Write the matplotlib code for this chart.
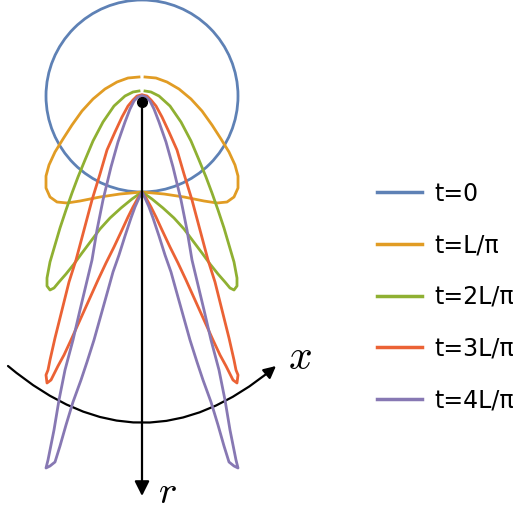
import matplotlib.pyplot as plt
from matplotlib.patches import Circle, FancyArrowPatch
from matplotlib.lines import Line2D

plt.rcParams['mathtext.fontset'] = 'cm'

# legenda
labels = ['t=0', 't=L/π', 't=2L/π', 't=3L/π', 't=4L/π']
cores = ['#5E81B5', '#E19C24', '#8FB032', '#EB6235', '#8778B3']

# t=0 -> circulo (centro, raio) em pixels da figura
centro = (142, 96)
raio = 96

# eixo de simetria
eixo_x = 142

# metade esquerda de cada curva (topo -> origem), coordenadas em pixels
orange_x = [139, 128, 117, 105, 93, 82, 72, 63, 55, 49, 46, 46, 50, 57, 67, 80, 100, 120, 142]
orange_y = [77, 78, 82, 89, 99, 111, 125, 139, 152, 165, 176, 188, 197, 202, 203, 201, 197, 194, 192]

green_x = [139, 133, 125, 114, 103, 93, 85, 78, 72, 66, 60, 55, 50, 47, 47, 50, 54, 59,
           66, 74, 82, 91, 100, 110, 121, 132, 142]
green_y = [91, 92, 96, 106, 122, 141, 160, 177, 193, 210, 228, 245, 262, 278, 286, 290, 288, 282,
           274, 264, 253, 241, 229, 218, 208, 199, 192]

red_x = [141, 137, 133, 128, 122, 115, 107, 100, 92, 84, 76, 69, 62, 55, 50, 48, 46, 47, 51, 53,
         58, 64, 71, 80, 89, 98, 106, 114, 122, 128, 133, 138, 142]
red_y = [95, 96, 100, 106, 117, 132, 150, 174, 200, 230, 260, 282, 310, 338, 360, 370, 375, 383, 380, 376,
         366, 355, 340, 320, 300, 280, 263, 247, 230, 217, 207, 198, 192]

purple_x = [141, 138, 134, 130, 125, 118, 111, 103, 97, 92, 86, 80, 73, 65, 59, 54, 50, 48, 46, 50,
            55, 60, 66, 73, 81, 87, 94, 101, 108, 113, 119, 125, 131, 135, 139, 142]
purple_y = [96, 97, 101, 109, 122, 142, 167, 200, 230, 260, 285, 310, 340, 370, 400, 430, 450, 460, 468, 466,
            462, 446, 425, 402, 380, 362, 340, 315, 290, 272, 255, 236, 218, 207, 198, 192]

curvas = [(orange_x, orange_y), (green_x, green_y), (red_x, red_y), (purple_x, purple_y)]

fig = plt.figure(figsize=(5.27, 5.16), dpi=100)
ax = fig.add_axes([0, 0, 1, 1])
ax.set_xlim(0, 527)
ax.set_ylim(516, 0)
ax.axis('off')

ax.add_patch(Circle(centro, raio, fill=False, edgecolor=cores[0], lw=2.0))

for (xs, ys), cor in zip(curvas, cores[1:]):
    # curva completa = metade esquerda + espelho da metade direita
    xx = list(xs) + [2 * eixo_x - v for v in reversed(xs[:-1])]
    yy = list(ys) + list(reversed(ys[:-1]))
    ax.plot(xx, yy, color=cor, lw=2.0, solid_joinstyle='round')

# seta r
ax.annotate('', xy=(142, 496), xytext=(142, 102),
            arrowprops=dict(arrowstyle='-|>', color='black', lw=1.6,
                            mutation_scale=22, shrinkA=0, shrinkB=0))
ax.plot([142], [102], 'o', color='black', ms=7)
ax.text(167, 492, '$r$', fontsize=28, ha='center', va='center')

# seta x (arco)
seta = FancyArrowPatch((8, 366), (276, 366), connectionstyle='arc3,rad=0.42',
                       arrowstyle='-|>', mutation_scale=18, color='black', lw=1.6,
                       shrinkA=0, shrinkB=0)
ax.add_patch(seta)
ax.text(300, 357, '$x$', fontsize=30, ha='center', va='center')

handles = [Line2D([], [], color=c, lw=2.5) for c in cores]
ax.legend(handles, labels, loc='center left', bbox_to_anchor=(377 / 527, 1 - 297 / 516),
          frameon=False, fontsize=17, handlelength=1.9, handletextpad=0.55,
          labelspacing=1.17, borderaxespad=0, borderpad=0)

fig.savefig('out.png', dpi=100)
